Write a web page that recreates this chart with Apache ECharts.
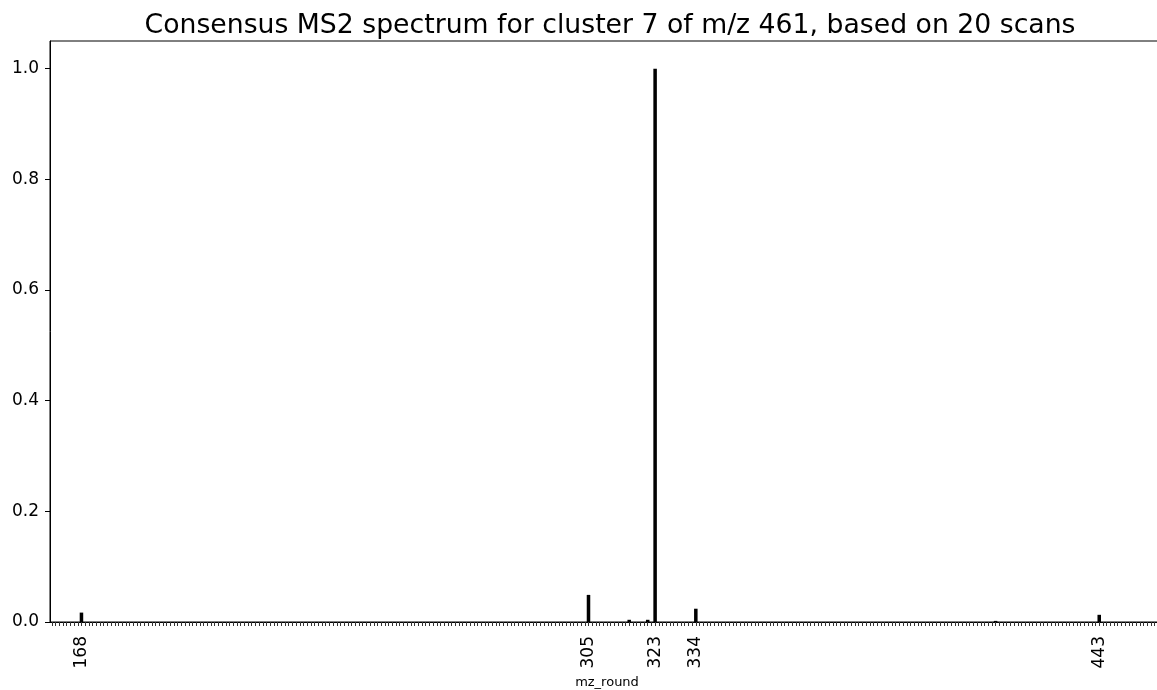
<!DOCTYPE html>
<html lang="en">
<head>
    <meta charset="UTF-8">
    <title>Consensus MS2 spectrum</title>
    <script src="https://cdn.jsdelivr.net/npm/echarts@6/dist/echarts.min.js"></script>
    <style>
        body { margin: 0; background: #fff; }
        #main { width: 1157px; height: 690px; }
    </style>
</head>
<body>
<div id="main"></div>
<script>
    // m/z range on the category axis (every integer gets a slot)
    const mzFirst = 160;
    const mzLast = 460;
    // peaks (relative intensity)
    const peakMz = [168, 305, 316, 321, 323, 334, 415, 443];
    const peakIntensity = [0.017, 0.049, 0.004, 0.004, 1.0, 0.024, 0.002, 0.013];
    // labelled ticks
    const xTickLabels = ['168', '305', '323', '334', '443'];
    const yTickStep = 0.2;
    const yTickMax = 1.0;

    let categories = [];
    let values = [];
    for (let mz = mzFirst; mz <= mzLast; mz++) {
        categories.push(String(mz));
        let k = peakMz.indexOf(mz);
        values.push(k >= 0 ? peakIntensity[k] : 0);
    }

    const font = 'DejaVu Sans';
    var myChart = echarts.init(document.getElementById('main'));
    var option = {
        animation: false,
        title: {
            text: 'Consensus MS2 spectrum for cluster 7 of m/z 461, based on 20 scans',
            left: 605,
            textAlign: 'center',
            top: 8,
            textStyle: { fontFamily: font, fontSize: 26.7, fontWeight: 'normal', color: '#000' }
        },
        grid: {
            left: 50, top: 41, width: 1114, height: 581,
            outerBoundsMode: 'none',
            containLabel: false,
            show: true, borderColor: '#000', borderWidth: 1
        },
        xAxis: {
            type: 'category',
            data: categories,
            name: 'mz_round',
            nameLocation: 'middle',
            nameGap: 52,
            nameTextStyle: { fontFamily: font, fontSize: 13, color: '#000' },
            axisLine: { show: true, lineStyle: { color: '#000', width: 1 } },
            axisTick: { show: true, interval: 0, alignWithLabel: true, length: 4, lineStyle: { color: '#333', width: 1 } },
            axisLabel: {
                interval: 0,
                rotate: 90,
                margin: 14,
                fontFamily: font,
                fontSize: 17,
                color: '#000',
                formatter: function (v) { return xTickLabels.indexOf(v) >= 0 ? v : ''; }
            }
        },
        yAxis: {
            type: 'value',
            min: 0,
            max: 1.05,
            interval: yTickStep,
            splitLine: { show: false },
            axisLine: { show: true, lineStyle: { color: '#000', width: 1 } },
            axisTick: { show: true, length: 5, lineStyle: { color: '#000', width: 1 } },
            axisLabel: {
                margin: 11,
                showMaxLabel: false,
                fontFamily: font,
                fontSize: 17,
                color: '#000',
                formatter: function (v) { return v > yTickMax + 1e-9 ? '' : v.toFixed(1); }
            }
        },
        series: [{
            type: 'bar',
            data: values,
            barWidth: '95%',
            itemStyle: { color: '#000' }
        }]
    };
    myChart.setOption(option);
</script>
</body>
</html>
